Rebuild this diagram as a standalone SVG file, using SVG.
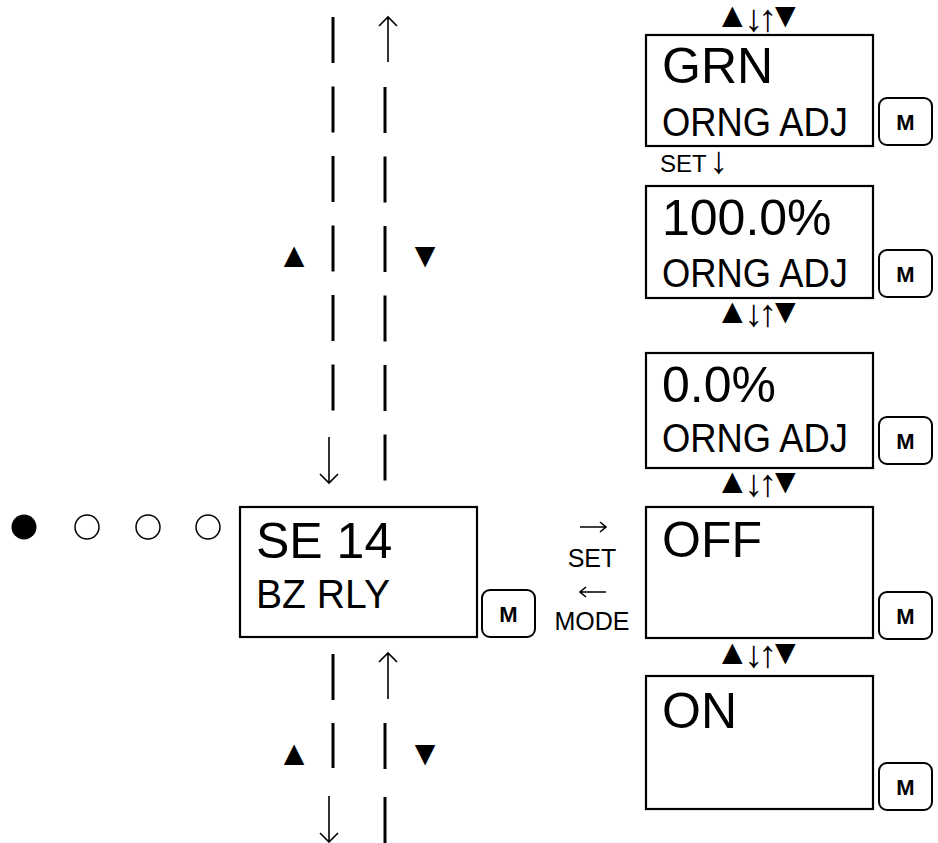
<svg xmlns="http://www.w3.org/2000/svg" width="938" height="843" viewBox="0 0 938 843">
<style>
text{font-family:"Liberation Sans",Arial,"DejaVu Sans",sans-serif;fill:#000}
.box{fill:#fff;stroke:#000;stroke-width:2.2}
.btn{fill:#fff;stroke:#000;stroke-width:2;}
.m{font-weight:bold;font-size:22px;text-anchor:middle}
.big{font-size:50px}
.mid{font-size:40px}
.tri{font-size:35px;text-anchor:middle}
.sy{font-size:35px}
.ar{font-size:38px}
.dash{stroke:#000;stroke-width:3;fill:none}
.arr{stroke:#000;stroke-width:1.6;fill:none}
</style>
<defs>
<g id="mbtn"><rect class="btn" x="0" y="0" width="53" height="47" rx="8"/><text class="m" x="26.5" y="31.5">M</text></g>
</defs>

<g id="connectors">
  <line class="dash" x1="333" y1="17" x2="333" y2="411" stroke-dasharray="46 23.5"/>
  <path class="arr" d="M329 437 V483 M320 474 L329 483 L338 474"/>
  <path class="arr" d="M388 62 V17 M379 26 L388 17 L397 26"/>
  <line class="dash" x1="385" y1="87" x2="385" y2="483" stroke-dasharray="46 23.5"/>
  <line class="dash" x1="333" y1="654" x2="333" y2="768" stroke-dasharray="46 23"/>
  <path class="arr" d="M329 796 V842 M320 833 L329 842 L338 833"/>
  <path class="arr" d="M388 699 V653 M379 662 L388 653 L397 662"/>
  <line class="dash" x1="385" y1="723" x2="385" y2="843" stroke-dasharray="46 28"/>
  <path class="arr" d="M580 527 H606 M600 522 L606 527 L600 532"/>
  <path class="arr" d="M580 592 H606 M586 587 L580 592 L586 597"/>
</g>

<g id="labels">
  <text class="tri" x="294" y="267">▲</text>
  <text class="tri" x="425" y="267">▼</text>
  <text class="tri" x="294" y="765">▲</text>
  <text class="tri" x="425" y="765">▼</text>
  <text x="592" y="567" font-size="25" text-anchor="middle">SET</text>
  <text x="592" y="630" font-size="25" text-anchor="middle">MODE</text>
  <text x="660" y="172" font-size="24">SET<tspan class="ar" x="709" y="173">↓</tspan></text>
  <text id="sym1" class="sy" x="715" y="27">▲<tspan class="ar" x="744" y="31">↓</tspan><tspan class="ar" x="758" y="31">↑</tspan><tspan x="768" y="27">▼</tspan></text>
  <text id="sym2" class="sy" x="715" y="323">▲<tspan class="ar" x="744" y="326">↓</tspan><tspan class="ar" x="758" y="326">↑</tspan><tspan x="768" y="323">▼</tspan></text>
  <text id="sym3" class="sy" x="715" y="493">▲<tspan class="ar" x="744" y="496">↓</tspan><tspan class="ar" x="758" y="496">↑</tspan><tspan x="768" y="493">▼</tspan></text>
  <text id="sym4" class="sy" x="715" y="664">▲<tspan class="ar" x="744" y="667">↓</tspan><tspan class="ar" x="758" y="667">↑</tspan><tspan x="768" y="664">▼</tspan></text>
</g>

<g id="indicator">
  <circle cx="24" cy="527" r="12.5" fill="#000"/>
  <circle cx="87" cy="527" r="12" fill="none" stroke="#000" stroke-width="1.5"/>
  <circle cx="148" cy="527" r="12" fill="none" stroke="#000" stroke-width="1.5"/>
  <circle cx="208" cy="527" r="12" fill="none" stroke="#000" stroke-width="1.5"/>
</g>

<g id="node-se14">
  <rect class="box" x="240" y="507" width="237" height="130"/>
  <text class="big" x="256" y="558">SE 14</text>
  <text class="mid" x="256" y="608" textLength="134" lengthAdjust="spacingAndGlyphs">BZ RLY</text>
  <use href="#mbtn" x="482" y="590"/>
</g>

<g id="node-grn">
  <rect class="box" x="646" y="35" width="227" height="111"/>
  <text class="big" x="662" y="83">GRN</text>
  <text class="mid" x="662" y="136" textLength="186" lengthAdjust="spacingAndGlyphs">ORNG ADJ</text>
  <use href="#mbtn" x="879" y="98"/>
</g>

<g id="node-100">
  <rect class="box" x="646" y="186" width="227" height="112"/>
  <text class="big" x="662" y="235">100.0%</text>
  <text class="mid" x="662" y="287" textLength="186" lengthAdjust="spacingAndGlyphs">ORNG ADJ</text>
  <use href="#mbtn" x="879" y="250"/>
</g>

<g id="node-0">
  <rect class="box" x="646" y="353" width="227" height="115"/>
  <text class="big" x="662" y="402">0.0%</text>
  <text class="mid" x="662" y="452" textLength="186" lengthAdjust="spacingAndGlyphs">ORNG ADJ</text>
  <use href="#mbtn" x="879" y="417"/>
</g>

<g id="node-off">
  <rect class="box" x="646" y="507" width="227" height="131"/>
  <text class="big" x="662" y="557">OFF</text>
  <use href="#mbtn" x="879" y="592"/>
</g>

<g id="node-on">
  <rect class="box" x="646" y="676" width="227" height="133"/>
  <text class="big" x="662" y="728">ON</text>
  <use href="#mbtn" x="879" y="763"/>
</g>
</svg>
